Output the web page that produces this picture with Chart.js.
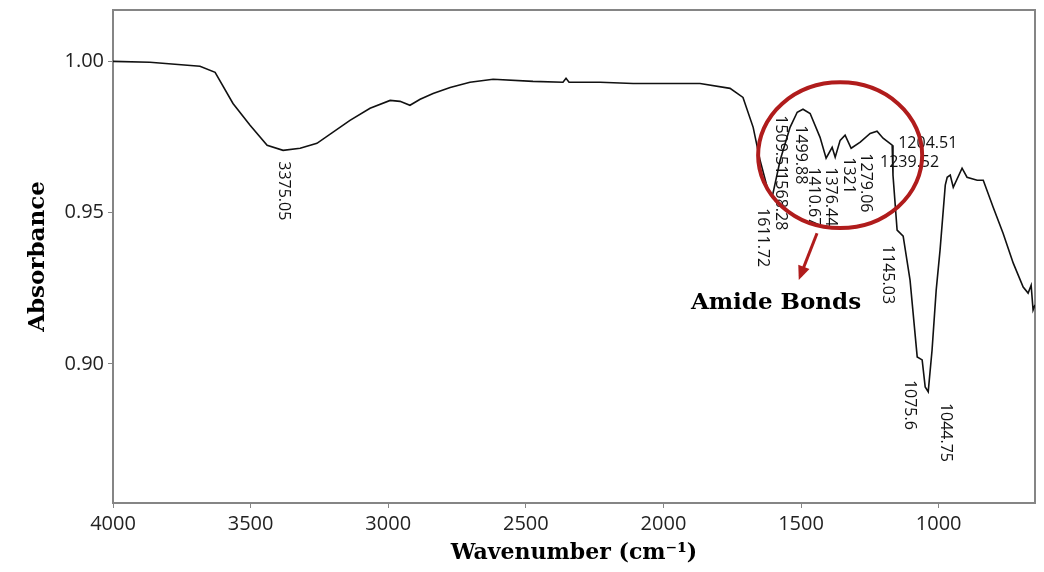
<!DOCTYPE html>
<html>
<head>
<meta charset="utf-8">
<script src="https://cdn.jsdelivr.net/npm/chart.js@4.4.1/dist/chart.umd.min.js"></script>
<style>
    html, body { margin: 0; padding: 0; background: #fff; }
    #wrap { width: 1044px; height: 572px; position: relative; }
</style>
</head>
<body>
<div id="wrap"><canvas id="ftir_chart"></canvas></div>
<script>
// spectrum
var wavenumbers = [4000, 3866, 3684, 3629, 3564, 3502, 3440, 3382, 3320, 3259, 3139, 3066, 2993, 2957, 2921, 2884,
    2837, 2775, 2703, 2619, 2474, 2365, 2354, 2343, 2230, 2110, 1867, 1758, 1711, 1674, 1649, 1623, 1605, 1576,
    1540, 1514, 1493, 1467, 1431, 1409, 1387, 1376, 1358, 1340, 1318, 1285, 1249, 1224, 1202, 1169, 1166, 1151,
    1129, 1104, 1078, 1060, 1049, 1038, 1024, 1009, 995, 976, 969, 958, 947, 915, 897, 860, 838, 802, 766, 729,
    693, 675, 664, 657, 650];
var absorbance = [1.000, 0.9997, 0.9984, 0.9964, 0.9861, 0.9789, 0.9723, 0.9706, 0.9713, 0.9729, 0.9805, 0.9845,
    0.9871, 0.9868, 0.9855, 0.9875, 0.9894, 0.9914, 0.9931, 0.9941, 0.9934, 0.9931, 0.9944, 0.9931, 0.9931, 0.9927,
    0.9927, 0.9911, 0.9881, 0.9782, 0.9673, 0.9584, 0.9551, 0.9673, 0.9782, 0.9832, 0.9842, 0.9828, 0.9749, 0.9680,
    0.9716, 0.9683, 0.9739, 0.9756, 0.9713, 0.9733, 0.9762, 0.9769, 0.9746, 0.9723, 0.9624, 0.9442, 0.9422, 0.9277,
    0.9023, 0.9013, 0.8924, 0.8908, 0.9046, 0.9244, 0.9376, 0.9591, 0.9617, 0.9624, 0.9584, 0.9647, 0.9617, 0.9607,
    0.9607, 0.9518, 0.9432, 0.9333, 0.9254, 0.9234, 0.9260, 0.9178, 0.9195];

var xTicks = [4000, 3500, 3000, 2500, 2000, 1500, 1000];
var yTicks = [0.90, 0.95, 1.00];

// peak labels: text, anchor wavenumber, anchor absorbance (top of label)
var peakLabels = ["3375.05", "1611.72", "1509.51", "1568.28", "1499.88", "1410.67", "1376.44", "1321", "1279.06", "1145.03", "1075.6", "1044.75"];
var peakLabelWn = [3382, 1641, 1576, 1576, 1503, 1456, 1394, 1329, 1264, 1184, 1104, 976];
var peakLabelAbs = [0.9670, 0.9515, 0.9822, 0.9637, 0.9789, 0.9650, 0.9650, 0.9683, 0.9696, 0.9393, 0.8947, 0.8871];
// the two labels written flat
var flatLabels = ["1239.52", "1204.51"];
var flatLabelWn = [1213, 1147];
var flatLabelAbs = [0.9667, 0.9729];

var decorPlugin = {
    id: "ftirDecor",
    beforeDatasetsDraw: function(chart) {
        var a = chart.chartArea, ctx = chart.ctx;
        ctx.save();
        ctx.strokeStyle = "#858585";
        ctx.lineWidth = 2;
        ctx.strokeRect(a.left, a.top, a.right - a.left, a.bottom - a.top);
        ctx.restore();
    },
    afterDatasetsDraw: function(chart) {
        var ctx = chart.ctx;
        var xs = chart.scales.x, ys = chart.scales.y;
        ctx.save();
        ctx.fillStyle = "#111";
        ctx.font = "16px 'Open Sans'";
        ctx.textBaseline = "middle";
        ctx.textAlign = "left";
        for (var i = 0; i < peakLabels.length; i++) {
            ctx.save();
            ctx.translate(xs.getPixelForValue(peakLabelWn[i]), ys.getPixelForValue(peakLabelAbs[i]));
            ctx.rotate(Math.PI / 2);
            ctx.fillText(peakLabels[i], 0, 0);
            ctx.restore();
        }
        for (var j = 0; j < flatLabels.length; j++) {
            ctx.fillText(flatLabels[j], xs.getPixelForValue(flatLabelWn[j]), ys.getPixelForValue(flatLabelAbs[j]));
        }

        // red circle round the amide region
        var cx = xs.getPixelForValue(1358), cy = ys.getPixelForValue(0.969);
        var rx = Math.abs(xs.getPixelForValue(1358 + 298) - cx);
        var ry = Math.abs(ys.getPixelForValue(0.969 + 0.0241) - cy);
        ctx.strokeStyle = "#b01c1c";
        ctx.lineWidth = 4;
        ctx.beginPath();
        ctx.ellipse(cx, cy, rx, ry, 0, 0, Math.PI * 2);
        ctx.stroke();

        // arrow
        var x1 = xs.getPixelForValue(1442), y1 = ys.getPixelForValue(0.9432);
        var x2 = xs.getPixelForValue(1503), y2 = ys.getPixelForValue(0.9290);
        ctx.lineWidth = 3;
        ctx.beginPath();
        ctx.moveTo(x1, y1);
        ctx.lineTo(x2, y2);
        ctx.stroke();
        var ang = Math.atan2(y2 - y1, x2 - x1);
        ctx.fillStyle = "#b01c1c";
        ctx.beginPath();
        ctx.moveTo(x2 + 4 * Math.cos(ang), y2 + 4 * Math.sin(ang));
        ctx.lineTo(x2 - 10 * Math.cos(ang) - 6 * Math.sin(ang), y2 - 10 * Math.sin(ang) + 6 * Math.cos(ang));
        ctx.lineTo(x2 - 10 * Math.cos(ang) + 6 * Math.sin(ang), y2 - 10 * Math.sin(ang) - 6 * Math.cos(ang));
        ctx.closePath();
        ctx.fill();

        ctx.fillStyle = "#000";
        ctx.font = "bold 23px 'DejaVu Serif'";
        ctx.textAlign = "center";
        ctx.fillText("Amide Bonds", xs.getPixelForValue(1591), ys.getPixelForValue(0.9201));
        ctx.restore();
    }
};

new Chart("ftir_chart", {
    type: "line",
    data: {
        datasets: [{
            data: wavenumbers.map(function(w, i) { return { x: w, y: absorbance[i] }; }),
            borderColor: "#111",
            borderWidth: 1.6,
            pointRadius: 0,
            tension: 0,
            fill: false,
        }]
    },
    options: {
        responsive: true,
        maintainAspectRatio: false,
        animation: false,
        layout: { padding: { top: 10, right: 9, left: 0, bottom: 0 } },
        plugins: {
            legend: { display: false },
            tooltip: { enabled: false }
        },
        scales: {
            x: {
                type: "linear",
                reverse: true,
                min: 650,
                max: 4000,
                afterBuildTicks: function(scale) {
                    scale.ticks = xTicks.map(function(v) { return { value: v }; });
                },
                afterFit: function(scale) {
                    scale.height = 69;
                    scale.paddingLeft = 0;
                    scale.paddingRight = 0;
                },
                grid: { display: true, drawOnChartArea: false, drawTicks: true, tickLength: 5, color: "#858585" },
                border: { display: true, color: "#858585", width: 2 },
                ticks: {
                    color: "#222",
                    padding: 4,
                    maxRotation: 0,
                    font: { family: "'Open Sans'", size: 20 },
                    callback: function(v) { return String(v); }
                },
                title: {
                    display: true,
                    text: "Wavenumber (cm⁻¹)",
                    color: "#000",
                    padding: { top: 0, bottom: 6 },
                    font: { family: "'DejaVu Serif'", size: 22, weight: "bold" }
                }
            },
            y: {
                min: 0.854,
                max: 1.017,
                afterBuildTicks: function(scale) {
                    scale.ticks = yTicks.map(function(v) { return { value: v }; });
                },
                afterFit: function(scale) {
                    scale.width = 113;
                    scale.paddingTop = 0;
                    scale.paddingBottom = 0;
                },
                grid: { display: true, drawOnChartArea: false, drawTicks: true, tickLength: 5, color: "#858585" },
                border: { display: true, color: "#858585", width: 2 },
                ticks: {
                    color: "#222",
                    padding: 4,
                    font: { family: "'Open Sans'", size: 20 },
                    callback: function(v) { return Number(v).toFixed(2); }
                },
                title: {
                    display: true,
                    text: "Absorbance",
                    color: "#000",
                    padding: { top: 24, bottom: 0 },
                    font: { family: "'DejaVu Serif'", size: 23, weight: "bold" }
                }
            }
        }
    },
    plugins: [decorPlugin]
});
</script>
</body>
</html>
